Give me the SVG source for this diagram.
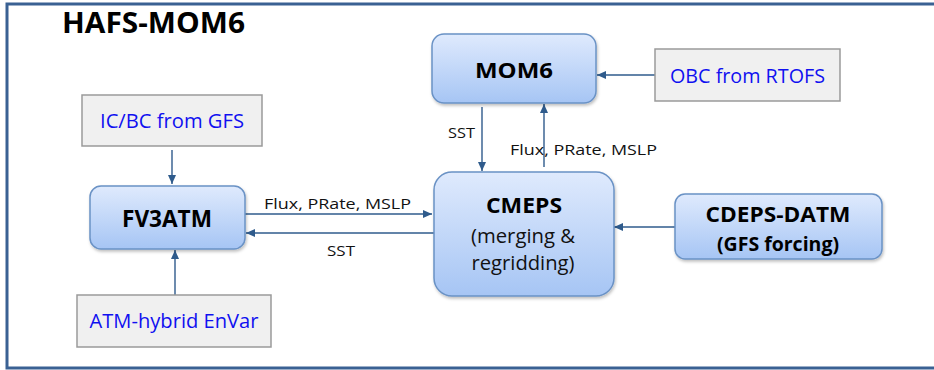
<svg xmlns="http://www.w3.org/2000/svg" width="934" height="370" viewBox="0 0 934 370">
<style>
.node rect{fill:url(#g);stroke:#6a92c5;stroke-width:1.5;filter:url(#sh)}
.src rect{fill:#f0f0f0;stroke:#9a9a9a;stroke-width:1.5}
.src text{fill:#1010f0;font-family:"Open Sans","Liberation Sans",sans-serif;font-size:20px;text-anchor:middle}
.bold{font-family:"Open Sans","Liberation Sans",sans-serif;font-weight:bold;fill:#000;text-anchor:middle}
.reg{font-family:"Open Sans","Liberation Sans",sans-serif;fill:#111;text-anchor:middle}
.lbl{font-family:"Open Sans","Liberation Sans",sans-serif;font-size:15px;fill:#111}
#edges line{stroke:#2f5b8c;stroke-width:1.4;marker-end:url(#ah)}
</style>
<defs>
<linearGradient id="g" x1="0" y1="0" x2="0" y2="1">
<stop offset="0" stop-color="#dfeafd"/>
<stop offset="1" stop-color="#a6c5f4"/>
</linearGradient>
<filter id="sh" x="-10%" y="-10%" width="125%" height="130%">
<feDropShadow dx="1" dy="2" stdDeviation="1.5" flood-color="#000" flood-opacity="0.25"/>
</filter>
<marker id="ah" markerUnits="userSpaceOnUse" markerWidth="10" markerHeight="8" refX="9" refY="4" orient="auto">
<path d="M0,0 L9,4 L0,8 z" fill="#2f5b8c"/>
</marker>
</defs>
<rect width="934" height="370" fill="#fff"/>
<path d="M934,4 H7 V368 H934" fill="none" stroke="#3a6193" stroke-width="3"/>
<text x="62" y="33" font-family="Open Sans,Liberation Sans,sans-serif" font-weight="bold" font-size="29" textLength="183" lengthAdjust="spacingAndGlyphs" fill="#000">HAFS-MOM6</text>

<g id="edges">
<line x1="655" y1="75" x2="597" y2="75"/>
<line x1="172" y1="150" x2="172" y2="184"/>
<line x1="175" y1="295" x2="175" y2="250"/>
<line x1="245" y1="214" x2="432" y2="214"/>
<line x1="434" y1="233" x2="246" y2="233"/>
<line x1="482" y1="107" x2="482" y2="171"/>
<line x1="544" y1="167" x2="544" y2="104"/>
<line x1="675" y1="227" x2="614" y2="227"/>
<text class="lbl" x="264" y="209" textLength="147" lengthAdjust="spacingAndGlyphs">Flux, PRate, MSLP</text>
<text class="lbl" x="327" y="256" textLength="28" lengthAdjust="spacingAndGlyphs">SST</text>
<text class="lbl" x="448" y="138" textLength="27" lengthAdjust="spacingAndGlyphs">SST</text>
<text class="lbl" x="510" y="155" textLength="147" lengthAdjust="spacingAndGlyphs">Flux, PRate, MSLP</text>
</g>

<g id="mom6" class="node">
<rect x="432" y="34" width="164" height="69" rx="12"/>
<text class="bold" x="514" y="78" font-size="22" textLength="78" lengthAdjust="spacingAndGlyphs">MOM6</text>
</g>
<g id="obc" class="src">
<rect x="655" y="49" width="185" height="52"/>
<text x="747.5" y="83" textLength="155" lengthAdjust="spacingAndGlyphs">OBC from RTOFS</text>
</g>
<g id="icbc" class="src">
<rect x="82" y="95" width="180" height="51"/>
<text x="172" y="128" textLength="144" lengthAdjust="spacingAndGlyphs">IC/BC from GFS</text>
</g>
<g id="fv3atm" class="node">
<rect x="90" y="186" width="155" height="63" rx="11"/>
<text class="bold" x="167" y="227" font-size="24" textLength="90" lengthAdjust="spacingAndGlyphs">FV3ATM</text>
</g>
<g id="envar" class="src">
<rect x="77" y="295" width="194" height="52"/>
<text x="174" y="328" textLength="169" lengthAdjust="spacingAndGlyphs">ATM-hybrid EnVar</text>
</g>
<g id="cmeps" class="node">
<rect x="434" y="172" width="180" height="124" rx="18"/>
<text class="bold" x="524" y="213" font-size="22" textLength="76" lengthAdjust="spacingAndGlyphs">CMEPS</text>
<text class="reg" x="523" y="243" font-size="20" textLength="104" lengthAdjust="spacingAndGlyphs">(merging &amp;</text>
<text class="reg" x="523" y="270" font-size="20" textLength="103" lengthAdjust="spacingAndGlyphs">regridding)</text>
</g>
<g id="cdeps" class="node">
<rect x="675" y="194" width="207" height="65" rx="10"/>
<text class="bold" x="778" y="222" font-size="22" textLength="145" lengthAdjust="spacingAndGlyphs">CDEPS-DATM</text>
<text class="bold" x="778" y="251" font-size="19" textLength="122" lengthAdjust="spacingAndGlyphs">(GFS forcing)</text>
</g>
</svg>
